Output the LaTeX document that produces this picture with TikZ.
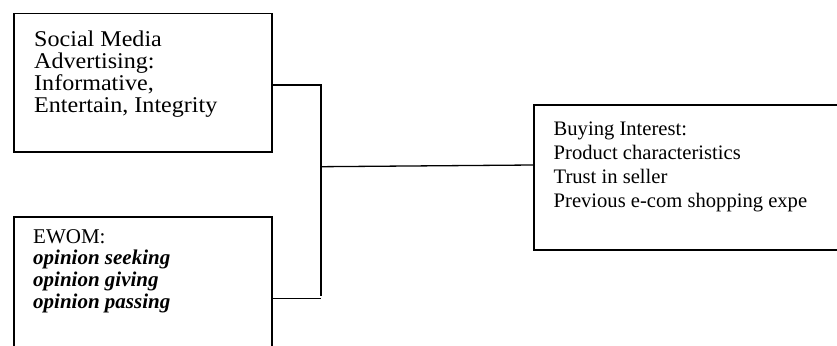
\documentclass[tikz,border=0pt]{standalone}
\usepackage{fontspec}
\setmainfont{Liberation Serif}
\newfontfamily\smafont[FakeStretch=1.07]{Liberation Serif}
\begin{document}
\begin{tikzpicture}[x=1pt,y=-1pt,
  boxline/.style={draw=black,line width=1.5pt},
  conn/.style={draw=black,line width=1.3pt},
  boxtext/.style={anchor=base west,inner sep=0pt,align=left}]
\useasboundingbox (0,0) rectangle (837,345);
\clip (0,0) rectangle (837,345);
% boxes
\node[boxline,anchor=north west,minimum width=258pt,minimum height=138pt,inner sep=0pt] (sma) at (13,13) {};
\node[boxline,anchor=north west,minimum width=258pt,minimum height=160pt,inner sep=0pt] (ewom) at (13,216) {};
\node[boxline,anchor=north west,minimum width=320pt,minimum height=145pt,inner sep=0pt] (bi) at (533,104) {};
% texts (anchored at the baseline of the last line)
\node[boxtext,font=\smafont\fontsize{22.5}{22.2}\selectfont] (smat) at (34,112.7) {Social Media\\Advertising:\\Informative,\\Entertain, Integrity};
\node[boxtext,font=\fontsize{21}{21.7}\selectfont] (ewomt) at (33,308.1) {EWOM:\\\textbf{\textit{opinion seeking}}\\\textbf{\textit{opinion giving}}\\\textbf{\textit{opinion passing}}};
\node[boxtext,font=\fontsize{20.6}{24}\selectfont] (bit) at (553.5,207.7) {Buying Interest:\\Product characteristics\\Trust in seller\\Previous e-com shopping expe};
% connectors
\coordinate (j1) at (321,85);
\coordinate (j2) at (321,296);
\coordinate (j3) at (321,298.3);
\coordinate (jm) at (321,166.7);
\draw[conn] (sma.east |- j1) -- (j1) -- (j2);
\draw[conn] (ewom.east |- j3) -- (j3);
\draw[conn] (jm) -- (bi.west |- 0,165);
\end{tikzpicture}
\end{document}
